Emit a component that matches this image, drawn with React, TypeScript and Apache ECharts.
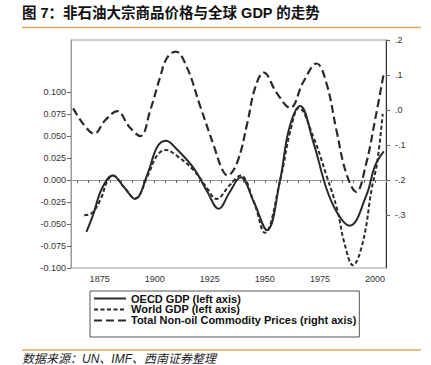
import React, { useEffect, useRef } from "react";
import * as echarts from "echarts";

const TITLE = "图 7：非石油大宗商品价格与全球 GDP 的走势";
const SOURCE = "数据来源：UN、IMF、西南证券整理";

const seriesNames = [
  "OECD GDP (left axis)",
  "World GDP (left axis)",
  "Total Non-oil Commodity Prices (right axis)",
];

const oecdYears = [1869, 1872, 1876, 1881, 1886, 1891, 1897, 1901, 1905, 1910, 1918, 1924, 1929, 1934, 1939, 1945, 1951, 1957, 1961, 1966, 1972, 1978, 1983, 1988.5, 1996, 2000, 2004];
const oecdValues = [-0.059, -0.04, -0.01, 0.005, -0.008, -0.0215, 0.0087, 0.037, 0.0445, 0.035, 0.0124, -0.0139, -0.0328, -0.0139, 0.003, -0.025, -0.057, 0.001, 0.058, 0.084, 0.043, -0.01, -0.038, -0.052, -0.018, 0.016, 0.0325];

const worldYears = [1868, 1871, 1875.5, 1878.5, 1881, 1886, 1891, 1897, 1901, 1905, 1910, 1918, 1924, 1928, 1934, 1939, 1945, 1950, 1957, 1961.5, 1965.5, 1972, 1978, 1983, 1986, 1990, 1994.5, 1998.5, 2001, 2003.5];
const worldValues = [-0.04, -0.0385, -0.0215, -0.001, 0.005, -0.008, -0.021, 0.006, 0.0275, 0.034, 0.0275, 0.0101, -0.0101, -0.0215, -0.006, 0.005, -0.025, -0.06, 0.0, 0.055, 0.082, 0.049, 0.005, -0.035, -0.0705, -0.097, -0.0705, -0.01, 0.02, 0.075];

const commodityYears = [1863, 1868, 1872.5, 1877.5, 1883, 1888.5, 1893.5, 1898, 1902.5, 1905.5, 1909.5, 1914.5, 1920.5, 1927, 1930.5, 1933, 1937.5, 1942, 1945.5, 1949.5, 1955.5, 1961.5, 1967.5, 1973.5, 1978, 1982.5, 1987, 1991.5, 1996, 2000, 2004];
const commodityValues = [0.005, -0.043, -0.067, -0.029, -0.003, -0.048, -0.074, 0.0, 0.095, 0.148, 0.167, 0.124, 0.014, -0.105, -0.167, -0.186, -0.148, -0.038, 0.062, 0.107, 0.048, 0.007, 0.081, 0.133, 0.076, -0.057, -0.181, -0.233, -0.152, -0.029, 0.105];

const leftTicks = [-0.1, -0.075, -0.05, -0.025, 0, 0.025, 0.05, 0.075, 0.1];
const rightTicks = [-0.3, -0.2, -0.1, 0, 0.1, 0.2];
const yearLabels = [1875, 1900, 1925, 1950, 1975, 2000];
const yearTicks = [1865, 1870, 1875, 1880, 1885, 1890, 1895, 1900, 1905, 1910, 1915, 1920, 1925, 1930, 1935, 1940, 1945, 1950, 1955, 1960, 1965, 1970, 1975, 1980, 1985, 1990, 1995, 2000, 2005];

const zip = (xs: number[], ys: number[]) => xs.map((x, i) => [x, ys[i]]);

const FONT = "Liberation Sans, Arial, Noto Sans CJK SC, sans-serif";
const CJK = "Liberation Sans, Noto Sans CJK SC, sans-serif";

export default function App() {
  const ref = useRef<HTMLDivElement>(null);
  useEffect(() => {
    if (!ref.current) return;
    const chart = echarts.init(ref.current, undefined, { renderer: "svg" });
    const lineColor = "#2a2a2a";
    chart.setOption({
      animation: false,
      backgroundColor: "#ffffff",
      grid: {
        left: 71,
        right: 45,
        top: 40,
        bottom: 97,
        show: true,
        borderColor: "#9a9a9a",
        borderWidth: 1,
        outerBoundsMode: "none",
      },
      legend: {
        orient: "vertical",
        left: 90,
        top: 291,
        itemGap: 0,
        itemWidth: 32,
        itemHeight: 9,
        padding: [2, 3, 11, 3],
        borderColor: "#555",
        borderWidth: 1,
        itemStyle: { opacity: 0 },
        textStyle: { fontFamily: FONT, fontSize: 11, fontWeight: "bold", color: "#111", lineHeight: 10 },
        data: seriesNames,
      },
      xAxis: {
        type: "value",
        min: 1862,
        max: 2005,
        axisLine: { show: true, lineStyle: { color: "#9a9a9a" } },
        axisTick: { show: true, length: 3, customValues: yearTicks, lineStyle: { color: "#666" } },
        axisLabel: {
          customValues: yearLabels,
          fontFamily: FONT,
          fontSize: 9,
          color: "#333",
          margin: 6,
          formatter: (v: number) => String(v),
        },
        splitLine: { show: false },
      },
      yAxis: [
        {
          type: "value",
          min: -0.1,
          max: 0.159,
          position: "left",
          axisLine: { show: true, lineStyle: { color: "#9a9a9a" } },
          axisTick: { show: true, length: 4, customValues: leftTicks, lineStyle: { color: "#666" } },
          axisLabel: {
            customValues: leftTicks,
            fontFamily: FONT,
            fontSize: 9,
            color: "#333",
            margin: 5,
            formatter: (v: number) => v.toFixed(3),
          },
          splitLine: { show: false },
        },
        {
          type: "value",
          min: -0.45,
          max: 0.2,
          position: "right",
          axisLine: { show: true, lineStyle: { color: "#333" } },
          axisTick: { show: true, length: 4, customValues: rightTicks, lineStyle: { color: "#666" } },
          axisLabel: {
            customValues: rightTicks,
            fontFamily: FONT,
            fontSize: 9,
            color: "#333",
            margin: 9,
            formatter: (v: number) => {
              const n = Math.round(Math.abs(v) * 10);
              return (v < -1e-9 ? "-." : ".") + n;
            },
          },
          splitLine: { show: false },
        },
      ],
      series: [
        {
          name: seriesNames[0],
          type: "line",
          yAxisIndex: 0,
          data: zip(oecdYears, oecdValues),
          smooth: 0.4,
          symbol: "none",
          lineStyle: { color: lineColor, width: 2, type: "solid" },
          itemStyle: { color: lineColor },
        },
        {
          name: seriesNames[1],
          type: "line",
          yAxisIndex: 0,
          data: zip(worldYears, worldValues),
          smooth: 0.4,
          symbol: "none",
          lineStyle: { color: lineColor, width: 2, type: [4, 2.5] },
          itemStyle: { color: lineColor },
        },
        {
          name: seriesNames[2],
          type: "line",
          yAxisIndex: 1,
          data: zip(commodityYears, commodityValues),
          smooth: 0.4,
          symbol: "none",
          lineStyle: { color: lineColor, width: 2.2, type: [8, 4] },
          itemStyle: { color: lineColor },
        },
      ],
      graphic: [
        {
          type: "text",
          left: 22,
          top: 6,
          style: { text: TITLE, fontFamily: CJK, fontSize: 14.5, fontWeight: "bold", fill: "#111" },
        },
        {
          type: "line",
          shape: { x1: 22, y1: 27.5, x2: 421, y2: 27.5 },
          style: { stroke: "#dba865", lineWidth: 1.5 },
        },
        {
          type: "line",
          shape: { x1: 22, y1: 350, x2: 421, y2: 350 },
          style: { stroke: "#dba865", lineWidth: 1.5 },
        },
        {
          type: "text",
          left: 22,
          top: 353,
          style: { text: SOURCE, fontFamily: CJK, fontSize: 12, fontStyle: "italic", fill: "#222" },
        },
      ],
    });
    return () => chart.dispose();
  }, []);
  return <div ref={ref} style={{ position: "absolute", left: 0, top: 0, width: 431, height: 365 }} />;
}
